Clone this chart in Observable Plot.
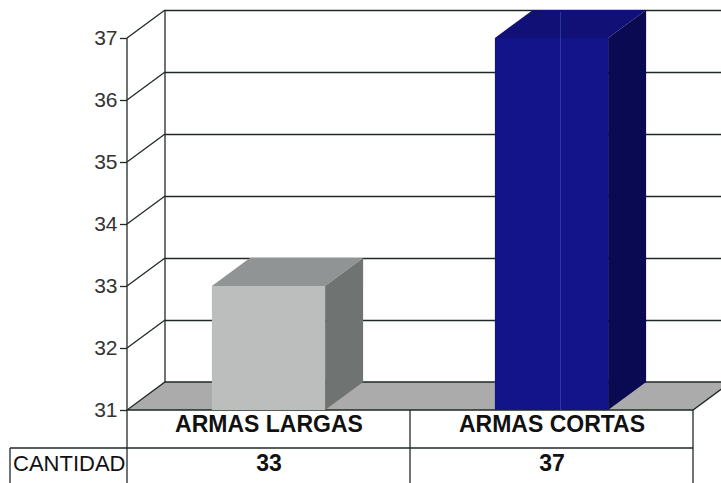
<!DOCTYPE html>
<html>
<head>
<meta charset="utf-8">
<script src="https://cdn.jsdelivr.net/npm/d3@7"></script>
<script src="https://cdn.jsdelivr.net/npm/@observablehq/plot@0.6"></script>
<style>
  html, body { margin: 0; padding: 0; background: #fff; overflow: hidden; }
</style>
</head>
<body>
<div id="chart"></div>
<script>
// Categories, values and tick labels
const categories = ["ARMAS LARGAS", "ARMAS CORTAS"];
const cantidad = [33, 37];
const yTicks = [31, 32, 33, 34, 35, 36, 37];
const rowLabel = "CANTIDAD";

const rows = categories.map((c, i) => ({categoria: c, cantidad: cantidad[i]}));

// Look of the 3-D scene
const DEPTH_X = 38, DEPTH_Y = -28;       // oblique depth offset, px
const BAR_FRACTION = 0.4;                // bar width relative to its band
const lineColor = "#1f2a25";
const floorColor = "#ababab";
const faces = [
  {front: "#bcbebe", top: "#909494", side: "#6f7472"},
  {front: "#14148a", top: "#101076", side: "#0a0a52"}
];
const base = yTicks[0];

function bandInfo(scales, dims) {
  const x = scales.x;
  const bw = x.bandwidth ? x.bandwidth()
    : (dims.width - dims.marginLeft - dims.marginRight) / categories.length;
  return {x, bw};
}

// Left wall connectors and the back wall's left edge
function wall(index, scales, values, dims) {
  const {y} = scales;
  const x0 = dims.marginLeft;
  const g = d3.create("svg:g").attr("stroke", lineColor).attr("stroke-width", 1.3).attr("fill", "none");
  for (const t of yTicks.slice(1)) {
    g.append("line").attr("x1", x0).attr("y1", y(t)).attr("x2", x0 + DEPTH_X).attr("y2", y(t) + DEPTH_Y);
  }
  g.append("line")
    .attr("x1", x0 + DEPTH_X).attr("y1", y(yTicks[yTicks.length - 1]) + DEPTH_Y)
    .attr("x2", x0 + DEPTH_X).attr("y2", y(base) + DEPTH_Y);
  return g.node();
}

// Floor of the scene
function floor(index, scales, values, dims) {
  const {y} = scales;
  const x0 = dims.marginLeft, x1 = dims.width - dims.marginRight, yb = y(base);
  const pts = [[x0, yb], [x1, yb], [x1 + DEPTH_X, yb + DEPTH_Y], [x0 + DEPTH_X, yb + DEPTH_Y]];
  return d3.create("svg:path")
    .attr("d", "M" + pts.join("L") + "Z")
    .attr("fill", floorColor)
    .attr("stroke", lineColor)
    .attr("stroke-width", 1.3)
    .node();
}

// Oblique prisms for each value
function columns(index, scales, values, dims) {
  const {y} = scales;
  const {x, bw} = bandInfo(scales, dims);
  const g = d3.create("svg:g");
  const poly = (pts, fill) => g.append("path").attr("d", "M" + pts.join("L") + "Z").attr("fill", fill);
  rows.forEach((d, i) => {
    const w = bw * BAR_FRACTION;
    const l = x(d.categoria) + (bw - w) / 2, r = l + w;
    const yt = y(d.cantidad), yb = y(base);
    const c = faces[i % faces.length];
    poly([[l, yt], [r, yt], [r, yb], [l, yb]], c.front);
    poly([[l, yt], [l + DEPTH_X, yt + DEPTH_Y], [r + DEPTH_X, yt + DEPTH_Y], [r, yt]], c.top);
    poly([[r, yt], [r + DEPTH_X, yt + DEPTH_Y], [r + DEPTH_X, yb + DEPTH_Y], [r, yb]], c.side);
    if (i === 1) {
      // thin highlight running down the dark column
      const xs = l + w * 0.58;
      g.append("line").attr("x1", xs).attr("x2", xs)
        .attr("y1", yt + DEPTH_Y + 2).attr("y2", yb)
        .attr("stroke", "#4a5fd0").attr("stroke-opacity", 0.5).attr("stroke-width", 1);
    }
  });
  return g.node();
}

// Front axis line and the data table grid below the floor
function tableGrid(index, scales, values, dims) {
  const {y} = scales;
  const {x, bw} = bandInfo(scales, dims);
  const x0 = dims.marginLeft, x1 = dims.width - dims.marginRight;
  const yb = y(base), rowY = yb + 38, bottom = dims.height + 2;
  const g = d3.create("svg:g").attr("stroke", lineColor).attr("stroke-width", 1.3).attr("fill", "none");
  g.append("line").attr("x1", x0).attr("x2", x0).attr("y1", y(yTicks[yTicks.length - 1])).attr("y2", bottom);
  for (const c of categories) {
    const xe = x(c) + bw;
    g.append("line").attr("x1", xe).attr("x2", xe).attr("y1", yb).attr("y2", bottom);
  }
  g.append("line").attr("x1", x0 - 117).attr("x2", x1).attr("y1", rowY).attr("y2", rowY);
  g.append("line").attr("x1", x0 - 117).attr("x2", x0 - 117).attr("y1", rowY).attr("y2", bottom);
  return g.node();
}

const chart = Plot.plot({
  width: 721,
  height: 483,
  marginLeft: 127,
  marginRight: 28,
  marginTop: 38,
  marginBottom: 73,
  x: {type: "band", domain: categories, padding: 0, axis: null},
  y: {domain: [31, 37], axis: null},
  style: {fontFamily: "'Liberation Sans', Arial, sans-serif", background: "#fff", color: "#222"},
  marks: [
    // back wall gridlines, pushed into depth
    Plot.ruleY(yTicks.slice(1), {dx: DEPTH_X, dy: DEPTH_Y, stroke: lineColor, strokeWidth: 1.3}),
    wall,
    floor,
    columns,
    tableGrid,
    Plot.axisY(yTicks, {
      tickSize: 7, tickPadding: 3, fontSize: 21, label: null,
      stroke: lineColor, strokeWidth: 1.3, fill: "#333", tickFormat: d => String(d)
    }),
    Plot.text(rows, {
      x: "categoria", text: "categoria", frameAnchor: "bottom", dy: 21,
      fontWeight: "bold", fontSize: 23, fill: "#111"
    }),
    Plot.text(rows, {
      x: "categoria", text: d => String(d.cantidad), frameAnchor: "bottom", dy: 60,
      fontWeight: "bold", fontSize: 23, fill: "#111"
    }),
    Plot.text([rowLabel], {
      text: d => d, frameAnchor: "bottom-left", textAnchor: "end", dx: -2, dy: 60,
      fontSize: 22, fill: "#111"
    })
  ]
});

document.getElementById("chart").appendChild(chart);
</script>
</body>
</html>
